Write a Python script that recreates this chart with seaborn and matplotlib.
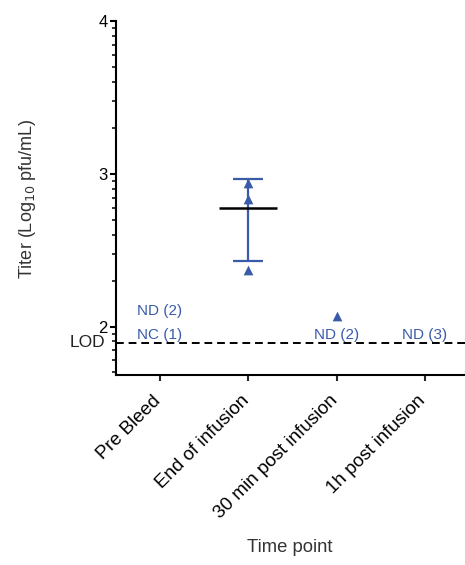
import numpy as np
import pandas as pd
import seaborn as sns
import matplotlib
matplotlib.use("Agg")
import matplotlib.pyplot as plt
import matplotlib.transforms as mtransforms
from matplotlib.ticker import FixedLocator, LogLocator, NullFormatter

# Time points on the x axis
categories = ["Pre Bleed", "End of infusion", "30 min post infusion", "1h post infusion"]

# Individual titers (pfu/mL) for the time points that had detectable virus
end_of_infusion = [868, 685, 234]
post_30min = [118]

# Limit of detection (pfu/mL)
lod = 78

# Annotations for samples that were not detected / not collected
notes = [
    ("Pre Bleed", 126, "ND (2)"),
    ("Pre Bleed", 88, "NC (1)"),
    ("30 min post infusion", 88, "ND (2)"),
    ("1h post infusion", 88, "ND (3)"),
]

y_ticks = [100, 1000, 10000]
y_tick_labels = ["2", "3", "4"]

blue = "#3A5BAA"

sns.set_theme(style="ticks")
plt.rcParams["font.family"] = ["Liberation Sans", "DejaVu Sans"]

df = pd.DataFrame({
    "time": ["End of infusion"] * len(end_of_infusion) + ["30 min post infusion"] * len(post_30min),
    "titer": end_of_infusion + post_30min,
})
df["time"] = pd.Categorical(df["time"], categories=categories)

fig = plt.figure(figsize=(4.65, 5.65), dpi=100)
ax = fig.add_axes([0.249, 0.336, 0.76, 0.626])

ax.set_yscale("log")

sns.stripplot(data=df, x="time", y="titer", order=categories, jitter=False,
              marker="^", color=blue, size=7, linewidth=0, ax=ax, zorder=3)

# Mean ± SD for the end of infusion group
xi = categories.index("End of infusion")
vals = np.array(end_of_infusion, dtype=float)
mean = vals.mean()
sd = vals.std(ddof=1)
ax.errorbar([xi], [mean], yerr=[[sd], [sd]], fmt="none", ecolor=blue,
            elinewidth=1.6, capsize=11, capthick=1.6, zorder=2)
ax.hlines(mean, xi - 0.33, xi + 0.33, color="black", linewidth=1.8, zorder=4)

# Limit of detection
ax.axhline(lod, color="black", linestyle=(0, (4, 2.5)), linewidth=1.4, zorder=1)
ax.text(-0.03, lod, "LOD", transform=ax.get_yaxis_transform(), ha="right",
        va="center", fontsize=12.5, color="#222222")

for cat, y, label in notes:
    ax.text(categories.index(cat), y, label, ha="center", va="center",
            fontsize=11, color=blue)

ax.set_xlim(-0.5, 3.5)
ax.set_ylim(48, 10000)
ax.yaxis.set_major_locator(FixedLocator(y_ticks))
ax.set_yticklabels(y_tick_labels)
ax.yaxis.set_minor_locator(LogLocator(base=10, subs=np.arange(2, 10)))
ax.yaxis.set_minor_formatter(NullFormatter())

# Category ticks, with slanted labels ending just below each tick
ax.set_xticks(range(len(categories)))
ax.set_xticklabels([])
label_offset = mtransforms.ScaledTranslation(-8 / 100, -17 / 100, fig.dpi_scale_trans)
for i, cat in enumerate(categories):
    ax.text(i, 0, cat, transform=ax.get_xaxis_transform() + label_offset,
            rotation=45, ha="right", va="top", rotation_mode="anchor",
            fontsize=13.6, color="black")

ax.tick_params(axis="y", which="major", length=4.5, width=1.5, labelsize=12, pad=1.5,
               colors="black")
ax.tick_params(axis="y", which="minor", length=2.8, width=1.3)
ax.tick_params(axis="x", which="major", length=4.5, width=1.5)

ax.set_xlabel("Time point", fontsize=13.3, color="#333333", va="top")
ax.xaxis.set_label_coords(0.493, -0.462)
ax.set_ylabel("Titer (Log$_{10}$ pfu/mL)", fontsize=13, color="#333333")
ax.yaxis.set_label_coords(-0.22, 0.5)

for side in ["top", "right"]:
    ax.spines[side].set_visible(False)
for side in ["left", "bottom"]:
    ax.spines[side].set_linewidth(1.5)
    ax.spines[side].set_color("black")

fig.savefig("out.png", dpi=100)
